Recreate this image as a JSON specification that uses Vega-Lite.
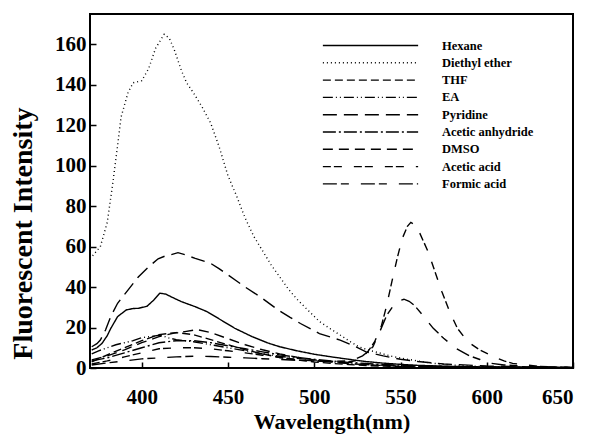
{
  "$schema": "https://vega.github.io/schema/vega-lite/v6.json",
  "width": 483,
  "height": 354,
  "autosize": {"type": "none"},
  "padding": {"left": 90, "top": 14, "right": 19, "bottom": 72},
  "background": "white",
  "config": {
    "view": {"stroke": "black", "strokeWidth": 2},
    "font": "Liberation Serif",
    "axis": {
      "domain": false,
      "grid": false,
      "labelFont": "Liberation Serif",
      "labelFontWeight": "bold",
      "labelFontSize": 21,
      "labelColor": "black",
      "titleFont": "Liberation Serif",
      "titleFontWeight": "bold",
      "titleColor": "black",
      "tickColor": "black",
      "tickSize": -6,
      "tickWidth": 1.5
    }
  },
  "data": {
    "values": [
      {"s": "Diethyl ether", "x": 370, "y": 54}, {"s": "Diethyl ether", "x": 372, "y": 56}, {"s": "Diethyl ether", "x": 376, "y": 60}, {"s": "Diethyl ether", "x": 380, "y": 72}, {"s": "Diethyl ether", "x": 383, "y": 90}, {"s": "Diethyl ether", "x": 386, "y": 110}, {"s": "Diethyl ether", "x": 388, "y": 124}, {"s": "Diethyl ether", "x": 392, "y": 136}, {"s": "Diethyl ether", "x": 395, "y": 141}, {"s": "Diethyl ether", "x": 400, "y": 142}, {"s": "Diethyl ether", "x": 404, "y": 148}, {"s": "Diethyl ether", "x": 408, "y": 158}, {"s": "Diethyl ether", "x": 413, "y": 165}, {"s": "Diethyl ether", "x": 416, "y": 163}, {"s": "Diethyl ether", "x": 419, "y": 157}, {"s": "Diethyl ether", "x": 423, "y": 147}, {"s": "Diethyl ether", "x": 426, "y": 141}, {"s": "Diethyl ether", "x": 430, "y": 136}, {"s": "Diethyl ether", "x": 435, "y": 129}, {"s": "Diethyl ether", "x": 440, "y": 121}, {"s": "Diethyl ether", "x": 445, "y": 109}, {"s": "Diethyl ether", "x": 450, "y": 95}, {"s": "Diethyl ether", "x": 455, "y": 85}, {"s": "Diethyl ether", "x": 460, "y": 74}, {"s": "Diethyl ether", "x": 465, "y": 65}, {"s": "Diethyl ether", "x": 470, "y": 58}, {"s": "Diethyl ether", "x": 475, "y": 51}, {"s": "Diethyl ether", "x": 480, "y": 45}, {"s": "Diethyl ether", "x": 485, "y": 39}, {"s": "Diethyl ether", "x": 490, "y": 34}, {"s": "Diethyl ether", "x": 497, "y": 28}, {"s": "Diethyl ether", "x": 503, "y": 23}, {"s": "Diethyl ether", "x": 510, "y": 19}, {"s": "Diethyl ether", "x": 515, "y": 16.3}, {"s": "Diethyl ether", "x": 520, "y": 13.5}, {"s": "Diethyl ether", "x": 526, "y": 10.4}, {"s": "Diethyl ether", "x": 532, "y": 8.7}, {"s": "Diethyl ether", "x": 538, "y": 7.4}, {"s": "Diethyl ether", "x": 545, "y": 5.8}, {"s": "Diethyl ether", "x": 550, "y": 4.9}, {"s": "Diethyl ether", "x": 560, "y": 3.5}, {"s": "Diethyl ether", "x": 567, "y": 2.5}, {"s": "Diethyl ether", "x": 575, "y": 1.8}, {"s": "Diethyl ether", "x": 585, "y": 1.2}, {"s": "Diethyl ether", "x": 600, "y": 0.6}, {"s": "Diethyl ether", "x": 620, "y": 0.3}, {"s": "Diethyl ether", "x": 650, "y": 0.1},

      {"s": "Hexane", "x": 371, "y": 8.9}, {"s": "Hexane", "x": 374, "y": 10}, {"s": "Hexane", "x": 377, "y": 12.2}, {"s": "Hexane", "x": 380, "y": 16}, {"s": "Hexane", "x": 382, "y": 19.5}, {"s": "Hexane", "x": 386, "y": 25.4}, {"s": "Hexane", "x": 391, "y": 28.7}, {"s": "Hexane", "x": 395, "y": 29.4}, {"s": "Hexane", "x": 398, "y": 29.5}, {"s": "Hexane", "x": 403, "y": 30.5}, {"s": "Hexane", "x": 407, "y": 33.6}, {"s": "Hexane", "x": 410.5, "y": 37}, {"s": "Hexane", "x": 414, "y": 36.5}, {"s": "Hexane", "x": 417, "y": 35.2}, {"s": "Hexane", "x": 423, "y": 32.8}, {"s": "Hexane", "x": 431, "y": 30.3}, {"s": "Hexane", "x": 438, "y": 27.8}, {"s": "Hexane", "x": 446, "y": 23.7}, {"s": "Hexane", "x": 454, "y": 19.6}, {"s": "Hexane", "x": 464, "y": 15.5}, {"s": "Hexane", "x": 473, "y": 12.4}, {"s": "Hexane", "x": 480, "y": 10.5}, {"s": "Hexane", "x": 490, "y": 8.5}, {"s": "Hexane", "x": 500, "y": 6.8}, {"s": "Hexane", "x": 510, "y": 5.5}, {"s": "Hexane", "x": 520, "y": 4.3}, {"s": "Hexane", "x": 530, "y": 3.2}, {"s": "Hexane", "x": 540, "y": 2.4}, {"s": "Hexane", "x": 550, "y": 1.8}, {"s": "Hexane", "x": 560, "y": 1.3}, {"s": "Hexane", "x": 580, "y": 0.8}, {"s": "Hexane", "x": 600, "y": 0.5}, {"s": "Hexane", "x": 650, "y": 0.2},

      {"s": "Pyridine", "x": 371, "y": 10.5}, {"s": "Pyridine", "x": 374, "y": 12}, {"s": "Pyridine", "x": 376, "y": 13.8}, {"s": "Pyridine", "x": 379, "y": 18.8}, {"s": "Pyridine", "x": 382, "y": 25.4}, {"s": "Pyridine", "x": 386, "y": 32}, {"s": "Pyridine", "x": 392, "y": 38.5}, {"s": "Pyridine", "x": 398, "y": 45}, {"s": "Pyridine", "x": 404, "y": 50}, {"s": "Pyridine", "x": 409.5, "y": 54}, {"s": "Pyridine", "x": 414, "y": 55.5}, {"s": "Pyridine", "x": 417, "y": 56}, {"s": "Pyridine", "x": 421, "y": 57}, {"s": "Pyridine", "x": 425, "y": 56}, {"s": "Pyridine", "x": 431, "y": 54.2}, {"s": "Pyridine", "x": 440, "y": 51.7}, {"s": "Pyridine", "x": 445, "y": 49}, {"s": "Pyridine", "x": 450, "y": 46}, {"s": "Pyridine", "x": 455, "y": 43}, {"s": "Pyridine", "x": 460, "y": 40}, {"s": "Pyridine", "x": 469, "y": 35}, {"s": "Pyridine", "x": 479, "y": 28.7}, {"s": "Pyridine", "x": 486, "y": 25}, {"s": "Pyridine", "x": 492, "y": 22}, {"s": "Pyridine", "x": 503, "y": 17}, {"s": "Pyridine", "x": 515, "y": 13.8}, {"s": "Pyridine", "x": 524, "y": 10.5}, {"s": "Pyridine", "x": 530, "y": 8}, {"s": "Pyridine", "x": 540, "y": 6}, {"s": "Pyridine", "x": 550, "y": 4.3}, {"s": "Pyridine", "x": 560, "y": 3.2}, {"s": "Pyridine", "x": 575, "y": 2}, {"s": "Pyridine", "x": 600, "y": 1}, {"s": "Pyridine", "x": 625, "y": 0.5}, {"s": "Pyridine", "x": 650, "y": 0.3},

      {"s": "THF", "x": 371, "y": 3}, {"s": "THF", "x": 375, "y": 4.5}, {"s": "THF", "x": 380, "y": 6.5}, {"s": "THF", "x": 390, "y": 10}, {"s": "THF", "x": 400, "y": 13.5}, {"s": "THF", "x": 410, "y": 16.5}, {"s": "THF", "x": 420, "y": 17.5}, {"s": "THF", "x": 430, "y": 16.5}, {"s": "THF", "x": 440, "y": 14}, {"s": "THF", "x": 450, "y": 11.5}, {"s": "THF", "x": 460, "y": 9}, {"s": "THF", "x": 470, "y": 7}, {"s": "THF", "x": 480, "y": 5.2}, {"s": "THF", "x": 490, "y": 4}, {"s": "THF", "x": 500, "y": 3}, {"s": "THF", "x": 510, "y": 2.3}, {"s": "THF", "x": 520, "y": 1.7}, {"s": "THF", "x": 530, "y": 1.2}, {"s": "THF", "x": 550, "y": 0.7}, {"s": "THF", "x": 600, "y": 0.3}, {"s": "THF", "x": 650, "y": 0.1},

      {"s": "EA", "x": 371, "y": 7}, {"s": "EA", "x": 375, "y": 8.5}, {"s": "EA", "x": 380, "y": 10}, {"s": "EA", "x": 385, "y": 11.5}, {"s": "EA", "x": 390, "y": 12.5}, {"s": "EA", "x": 395, "y": 13.5}, {"s": "EA", "x": 400, "y": 15}, {"s": "EA", "x": 405, "y": 15.5}, {"s": "EA", "x": 411, "y": 16.3}, {"s": "EA", "x": 415, "y": 15}, {"s": "EA", "x": 420, "y": 14}, {"s": "EA", "x": 430, "y": 13}, {"s": "EA", "x": 440, "y": 11.5}, {"s": "EA", "x": 450, "y": 10}, {"s": "EA", "x": 460, "y": 8.5}, {"s": "EA", "x": 470, "y": 7}, {"s": "EA", "x": 480, "y": 5.8}, {"s": "EA", "x": 490, "y": 4.8}, {"s": "EA", "x": 500, "y": 3.8}, {"s": "EA", "x": 510, "y": 3}, {"s": "EA", "x": 520, "y": 2.3}, {"s": "EA", "x": 530, "y": 1.7}, {"s": "EA", "x": 550, "y": 1}, {"s": "EA", "x": 600, "y": 0.4}, {"s": "EA", "x": 650, "y": 0.2},

      {"s": "Acetic anhydride", "x": 371, "y": 3.5}, {"s": "Acetic anhydride", "x": 380, "y": 5}, {"s": "Acetic anhydride", "x": 390, "y": 7.5}, {"s": "Acetic anhydride", "x": 400, "y": 10}, {"s": "Acetic anhydride", "x": 410, "y": 12.5}, {"s": "Acetic anhydride", "x": 420, "y": 13.5}, {"s": "Acetic anhydride", "x": 430, "y": 13.5}, {"s": "Acetic anhydride", "x": 440, "y": 12.5}, {"s": "Acetic anhydride", "x": 450, "y": 11}, {"s": "Acetic anhydride", "x": 460, "y": 9.5}, {"s": "Acetic anhydride", "x": 470, "y": 8}, {"s": "Acetic anhydride", "x": 480, "y": 6.5}, {"s": "Acetic anhydride", "x": 490, "y": 5.3}, {"s": "Acetic anhydride", "x": 500, "y": 4.3}, {"s": "Acetic anhydride", "x": 510, "y": 3.5}, {"s": "Acetic anhydride", "x": 520, "y": 2.8}, {"s": "Acetic anhydride", "x": 530, "y": 2.2}, {"s": "Acetic anhydride", "x": 540, "y": 1.7}, {"s": "Acetic anhydride", "x": 560, "y": 1.1}, {"s": "Acetic anhydride", "x": 580, "y": 0.7}, {"s": "Acetic anhydride", "x": 600, "y": 0.5}, {"s": "Acetic anhydride", "x": 650, "y": 0.2},

      {"s": "DMSO", "x": 371, "y": 4}, {"s": "DMSO", "x": 380, "y": 6}, {"s": "DMSO", "x": 390, "y": 9}, {"s": "DMSO", "x": 400, "y": 12.5}, {"s": "DMSO", "x": 410, "y": 15.5}, {"s": "DMSO", "x": 420, "y": 17.5}, {"s": "DMSO", "x": 425, "y": 18}, {"s": "DMSO", "x": 432, "y": 19}, {"s": "DMSO", "x": 440, "y": 17.5}, {"s": "DMSO", "x": 450, "y": 14.5}, {"s": "DMSO", "x": 460, "y": 11.5}, {"s": "DMSO", "x": 470, "y": 9}, {"s": "DMSO", "x": 480, "y": 7}, {"s": "DMSO", "x": 490, "y": 5.3}, {"s": "DMSO", "x": 500, "y": 4}, {"s": "DMSO", "x": 510, "y": 3}, {"s": "DMSO", "x": 520, "y": 2.2}, {"s": "DMSO", "x": 530, "y": 1.6}, {"s": "DMSO", "x": 550, "y": 0.9}, {"s": "DMSO", "x": 600, "y": 0.4}, {"s": "DMSO", "x": 650, "y": 0.2},

      {"s": "Acetic acid", "x": 371, "y": 2}, {"s": "Acetic acid", "x": 380, "y": 3.5}, {"s": "Acetic acid", "x": 390, "y": 5.5}, {"s": "Acetic acid", "x": 400, "y": 7.5}, {"s": "Acetic acid", "x": 410, "y": 9.5}, {"s": "Acetic acid", "x": 420, "y": 10}, {"s": "Acetic acid", "x": 430, "y": 10}, {"s": "Acetic acid", "x": 440, "y": 9.5}, {"s": "Acetic acid", "x": 450, "y": 8.5}, {"s": "Acetic acid", "x": 460, "y": 7.5}, {"s": "Acetic acid", "x": 470, "y": 6.3}, {"s": "Acetic acid", "x": 480, "y": 5.2}, {"s": "Acetic acid", "x": 490, "y": 4.2}, {"s": "Acetic acid", "x": 500, "y": 3.5}, {"s": "Acetic acid", "x": 510, "y": 3}, {"s": "Acetic acid", "x": 520, "y": 3}, {"s": "Acetic acid", "x": 526, "y": 4}, {"s": "Acetic acid", "x": 531, "y": 8}, {"s": "Acetic acid", "x": 535, "y": 13}, {"s": "Acetic acid", "x": 539, "y": 21}, {"s": "Acetic acid", "x": 542, "y": 31}, {"s": "Acetic acid", "x": 545, "y": 42.7}, {"s": "Acetic acid", "x": 548, "y": 54}, {"s": "Acetic acid", "x": 551, "y": 64}, {"s": "Acetic acid", "x": 554, "y": 70}, {"s": "Acetic acid", "x": 556, "y": 72}, {"s": "Acetic acid", "x": 558, "y": 71}, {"s": "Acetic acid", "x": 561, "y": 67}, {"s": "Acetic acid", "x": 566, "y": 57.5}, {"s": "Acetic acid", "x": 570, "y": 47.6}, {"s": "Acetic acid", "x": 574, "y": 37.7}, {"s": "Acetic acid", "x": 578.5, "y": 27.8}, {"s": "Acetic acid", "x": 583, "y": 19.6}, {"s": "Acetic acid", "x": 589, "y": 13}, {"s": "Acetic acid", "x": 596, "y": 8.9}, {"s": "Acetic acid", "x": 603, "y": 6}, {"s": "Acetic acid", "x": 610, "y": 3.5}, {"s": "Acetic acid", "x": 615, "y": 2.3}, {"s": "Acetic acid", "x": 623, "y": 1.5}, {"s": "Acetic acid", "x": 630, "y": 0.8}, {"s": "Acetic acid", "x": 640, "y": 0.4}, {"s": "Acetic acid", "x": 650, "y": 0.2},

      {"s": "Formic acid", "x": 371, "y": 1.5}, {"s": "Formic acid", "x": 380, "y": 2.5}, {"s": "Formic acid", "x": 390, "y": 3.5}, {"s": "Formic acid", "x": 400, "y": 4.5}, {"s": "Formic acid", "x": 410, "y": 5}, {"s": "Formic acid", "x": 420, "y": 5.5}, {"s": "Formic acid", "x": 430, "y": 5.8}, {"s": "Formic acid", "x": 440, "y": 5.7}, {"s": "Formic acid", "x": 450, "y": 5.3}, {"s": "Formic acid", "x": 460, "y": 5}, {"s": "Formic acid", "x": 470, "y": 4.6}, {"s": "Formic acid", "x": 480, "y": 4.2}, {"s": "Formic acid", "x": 490, "y": 3.8}, {"s": "Formic acid", "x": 500, "y": 3.5}, {"s": "Formic acid", "x": 510, "y": 3.3}, {"s": "Formic acid", "x": 518, "y": 3.5}, {"s": "Formic acid", "x": 524, "y": 4.5}, {"s": "Formic acid", "x": 528, "y": 6}, {"s": "Formic acid", "x": 531, "y": 8}, {"s": "Formic acid", "x": 534, "y": 10.5}, {"s": "Formic acid", "x": 538, "y": 18}, {"s": "Formic acid", "x": 542, "y": 26}, {"s": "Formic acid", "x": 546, "y": 31}, {"s": "Formic acid", "x": 549, "y": 33.2}, {"s": "Formic acid", "x": 552, "y": 34}, {"s": "Formic acid", "x": 555, "y": 33}, {"s": "Formic acid", "x": 558, "y": 31}, {"s": "Formic acid", "x": 563, "y": 26}, {"s": "Formic acid", "x": 569, "y": 19.6}, {"s": "Formic acid", "x": 575, "y": 14.7}, {"s": "Formic acid", "x": 582, "y": 9.8}, {"s": "Formic acid", "x": 590, "y": 6}, {"s": "Formic acid", "x": 596, "y": 4.2}, {"s": "Formic acid", "x": 600, "y": 2.6}, {"s": "Formic acid", "x": 610, "y": 1.5}, {"s": "Formic acid", "x": 620, "y": 1}, {"s": "Formic acid", "x": 635, "y": 0.5}, {"s": "Formic acid", "x": 650, "y": 0.2}
    ]
  },
  "mark": {"type": "line", "color": "black", "strokeWidth": 1.4, "clip": true},
  "encoding": {
    "x": {
      "field": "x", "type": "quantitative",
      "scale": {"domain": [370, 650], "nice": false, "zero": false},
      "axis": {"values": [400, 450, 500, 550, 600, 650], "title": "Wavelength(nm)", "titleFontSize": 22, "labelPadding": 24, "titlePadding": 4}
    },
    "y": {
      "field": "y", "type": "quantitative",
      "scale": {"domain": [0, 175], "nice": false},
      "axis": {"values": [0, 20, 40, 60, 80, 100, 120, 140, 160], "title": "Fluorescent Intensity", "titleFontSize": 28, "labelPadding": 10, "titleX": -67, "titleY": 219, "titleBaseline": "middle", "titleAngle": -90}
    },
    "strokeDash": {
      "field": "s", "type": "nominal",
      "scale": {
        "domain": ["Hexane", "Diethyl ether", "THF", "EA", "Pyridine", "Acetic anhydride", "DMSO", "Acetic acid", "Formic acid"],
        "range": [[1, 0], [1, 3], [8, 4], [10, 3, 1, 3, 1, 3], [14, 7], [13, 3, 2, 3], [10, 6], [8, 3, 8, 12], [14, 4, 8, 12]]
      },
      "legend": {
        "orient": "none",
        "legendX": 271,
        "legendY": 22,
        "title": null,
        "padding": 0,
        "symbolType": "M-5.5,0H5.5",
        "symbolSize": 300,
        "symbolStrokeWidth": 1.4,
        "symbolStrokeColor": "black",
        "symbolFillColor": "transparent",
        "labelFont": "Liberation Serif",
        "labelFontWeight": "bold",
        "labelFontSize": 12.5,
        "labelColor": "black",
        "labelOffset": 62,
        "rowPadding": 1.3
      }
    }
  }
}
